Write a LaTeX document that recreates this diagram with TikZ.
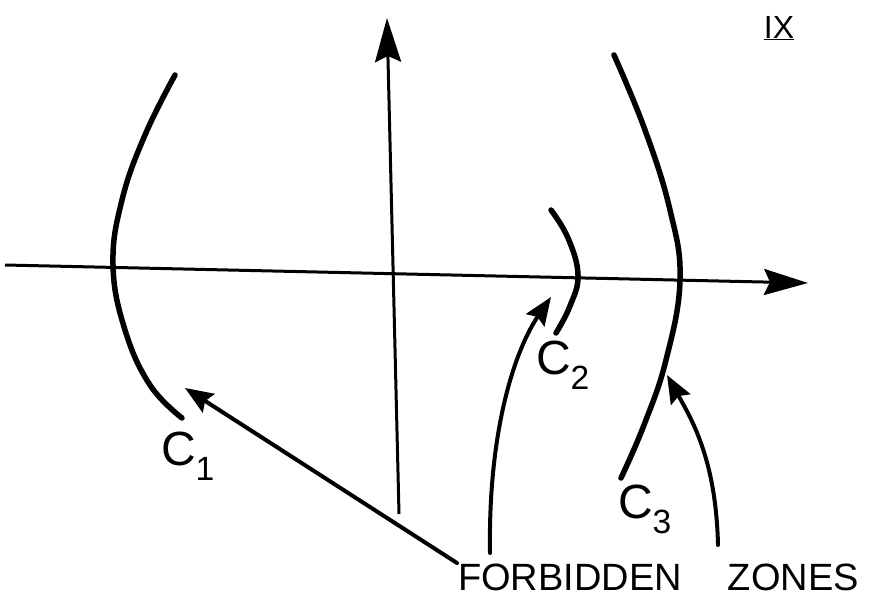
\documentclass[tikz,border=0pt]{standalone}
\usepackage{fontspec}
\setmainfont{Liberation Sans}
\usetikzlibrary{arrows.meta}
\begin{document}
\begin{tikzpicture}[x=1pt,y=-1pt,
  axis/.style={line width=3pt, -{Stealth[length=44pt,width=26pt,inset=6pt]}},
  curve/.style={line width=5.5pt, line cap=round},
  pointer/.style={line width=4pt, line cap=round, -{Stealth[length=28pt,width=22pt,inset=4pt]}},
  lab/.style={font=\fontsize{48}{48}\selectfont, inner sep=0pt},
  note/.style={font=\fontsize{38}{38}\selectfont, inner sep=0pt}]
\useasboundingbox (0,0) rectangle (877,612);
% axes
\coordinate (xl) at (5,265);
\coordinate (xr) at (808,283);
\coordinate (yb) at (399,514);
\coordinate (yt) at (387,18);
\draw[axis] (xl) -- (xr);
\draw[axis] (yb) -- (yt);
% curves
\draw[curve] plot[smooth, tension=0.7] coordinates {(175,75) (145,135) (122,200) (113,265) (125,330) (150,385) (182,418)};
\draw[curve] plot[smooth, tension=0.7] coordinates {(551,210) (568,238) (578,275) (570,306) (556,333)};
\draw[curve] plot[smooth, tension=0.7] coordinates {(614,55) (645,130) (670,210) (680,280) (666,360) (644,425) (621,478)};
% labels
\node[lab] (c1) at (188,456) {C\textsubscript{1}};
\node[lab] (c2) at (563,365) {C\textsubscript{2}};
\node[lab] (c3) at (645,509) {C\textsubscript{3}};
\node[note, font=\fontsize{32}{32}\selectfont] (ix) at (779,28) {\underline{IX}};
\node[note, anchor=west] (fz) at (458,577) {FORBIDDEN\hspace{46pt}ZONES};
% pointers
\coordinate (p1s) at (457,563);
\coordinate (p1t) at (185,388);
\coordinate (p2s) at (490,553);
\coordinate (p2t) at (551,297);
\coordinate (p3s) at (718,545);
\coordinate (p3t) at (667,375);
\draw[pointer] (p1s) -- (p1t);
\draw[pointer] (p2s) .. controls (488,430) and (515,350) .. (p2t);
\draw[pointer] (p3s) .. controls (716,460) and (692,420) .. (p3t);
\end{tikzpicture}
\end{document}
